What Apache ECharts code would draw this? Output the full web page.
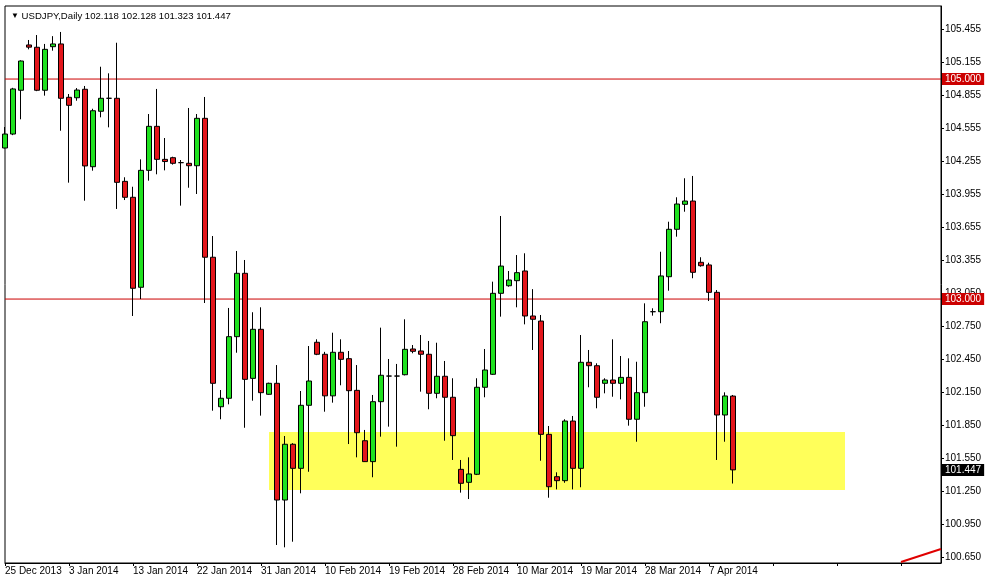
<!DOCTYPE html>
<html><head><meta charset="utf-8">
<script src="https://cdn.jsdelivr.net/npm/echarts@6/dist/echarts.min.js"></script>
<style>html,body{margin:0;padding:0;background:#fff}#c{width:985px;height:580px}</style>
</head><body><div id="c"></div>
<script>
const categories = ['25 Dec 2013','26 Dec 2013','27 Dec 2013','29 Dec 2013','30 Dec 2013','31 Dec 2013','1 Jan 2014','2 Jan 2014','3 Jan 2014','5 Jan 2014','6 Jan 2014','7 Jan 2014','8 Jan 2014','9 Jan 2014','10 Jan 2014','12 Jan 2014','13 Jan 2014','14 Jan 2014','15 Jan 2014','16 Jan 2014','17 Jan 2014','19 Jan 2014','20 Jan 2014','21 Jan 2014','22 Jan 2014','23 Jan 2014','24 Jan 2014','26 Jan 2014','27 Jan 2014','28 Jan 2014','29 Jan 2014','30 Jan 2014','31 Jan 2014','2 Feb 2014','3 Feb 2014','4 Feb 2014','5 Feb 2014','6 Feb 2014','7 Feb 2014','9 Feb 2014','10 Feb 2014','11 Feb 2014','12 Feb 2014','13 Feb 2014','14 Feb 2014','16 Feb 2014','17 Feb 2014','18 Feb 2014','19 Feb 2014','20 Feb 2014','21 Feb 2014','23 Feb 2014','24 Feb 2014','25 Feb 2014','26 Feb 2014','27 Feb 2014','28 Feb 2014','2 Mar 2014','3 Mar 2014','4 Mar 2014','5 Mar 2014','6 Mar 2014','7 Mar 2014','9 Mar 2014','10 Mar 2014','11 Mar 2014','12 Mar 2014','13 Mar 2014','14 Mar 2014','16 Mar 2014','17 Mar 2014','18 Mar 2014','19 Mar 2014','20 Mar 2014','21 Mar 2014','23 Mar 2014','24 Mar 2014','25 Mar 2014','26 Mar 2014','27 Mar 2014','28 Mar 2014','30 Mar 2014','31 Mar 2014','1 Apr 2014','2 Apr 2014','3 Apr 2014','4 Apr 2014','6 Apr 2014','7 Apr 2014','8 Apr 2014','9 Apr 2014','10 Apr 2014'];

const openP = [104.373,104.500,104.898,105.310,105.289,104.898,105.294,105.319,104.834,104.830,104.907,104.203,104.707,104.825,104.825,104.070,103.925,103.107,104.170,104.570,104.270,104.285,104.240,104.234,104.212,104.643,103.380,102.021,102.098,102.658,103.234,102.279,102.725,102.134,102.234,101.173,101.680,101.461,102.034,102.607,102.498,102.120,102.516,102.458,102.170,101.712,101.522,102.067,102.300,102.300,102.312,102.546,102.528,102.498,102.143,102.298,102.107,101.452,101.334,101.407,102.198,102.316,103.052,103.121,103.167,103.255,102.846,102.800,101.770,101.385,101.349,101.891,101.461,102.425,102.394,102.234,102.264,102.234,102.288,101.907,102.149,102.885,102.885,103.203,103.634,103.861,103.891,103.334,103.310,103.061,101.946,102.118];
const closeP = [104.500,104.910,105.164,105.290,104.898,105.270,105.319,104.825,104.761,104.900,104.210,104.712,104.825,104.825,104.061,103.925,103.098,104.170,104.570,104.270,104.250,104.234,104.240,104.212,104.643,103.380,102.234,102.098,102.658,103.234,102.270,102.725,102.149,102.234,101.173,101.680,101.461,102.034,102.255,102.498,102.120,102.516,102.452,102.167,101.785,101.522,102.067,102.307,102.300,102.300,102.543,102.525,102.498,102.143,102.298,102.107,101.758,101.325,101.410,102.198,102.355,103.052,103.300,103.173,103.240,102.846,102.816,101.770,101.294,101.349,101.891,101.461,102.425,102.394,102.107,102.264,102.234,102.288,101.907,102.149,102.794,102.885,103.210,103.634,103.864,103.891,103.243,103.303,103.061,101.946,102.119,101.447];
const lowP = [104.370,104.490,104.634,105.270,104.890,104.849,105.258,104.530,104.058,104.803,103.894,104.167,104.652,104.561,103.819,103.900,102.846,103.000,104.076,104.134,104.170,104.222,103.849,104.012,103.955,102.964,101.985,101.907,102.043,102.512,101.830,102.076,101.940,102.130,100.764,100.743,100.794,101.234,101.430,102.490,101.976,102.058,102.216,101.682,101.561,101.520,101.380,101.749,101.840,101.658,102.306,102.507,102.158,101.998,102.098,101.712,101.537,101.240,101.182,101.400,102.107,102.310,102.840,103.112,102.925,102.770,102.537,101.530,101.194,101.270,101.330,101.270,101.289,102.198,102.007,102.143,102.112,102.088,101.849,101.703,102.021,102.849,102.780,103.076,103.567,103.794,103.189,103.294,102.982,101.537,101.703,101.323];
const highP = [104.564,104.920,105.170,105.355,105.400,105.319,105.390,105.428,104.864,104.918,104.937,104.730,105.112,105.052,105.330,104.107,104.021,104.270,104.682,104.910,104.464,104.294,104.264,104.737,104.682,104.837,103.573,102.173,102.919,103.437,103.355,102.880,102.925,102.240,102.400,101.755,101.690,102.164,102.573,102.634,102.520,102.694,102.634,102.528,102.400,101.810,102.128,102.740,102.455,102.410,102.816,102.582,102.673,102.619,102.603,102.437,102.280,101.537,101.561,102.280,102.546,103.158,103.755,103.255,103.400,103.416,103.090,102.855,101.846,101.425,101.907,101.937,102.673,102.537,102.416,102.280,102.634,102.482,102.461,102.430,102.961,102.916,103.430,103.703,103.925,104.098,104.119,103.380,103.330,103.082,102.152,102.128];

const yTickLabels = [105.455,105.155,104.855,104.555,104.255,103.955,103.655,103.355,103.050,102.750,102.450,102.150,101.850,101.550,101.250,100.950,100.650];
const levelLines = [105.000, 103.000];
const lastPrice = 101.447;
const zoneRange = {fromIdx: 33, toIdx: 105, low: 101.264, high: 101.791};
const trendLine = [[112, 100.610], [117, 100.728]];
const header = {symbol: 'USDJPY,Daily', o: '102.118', h: '102.128', l: '101.323', c: '101.447'};

const TOTAL_SLOTS = 118;
const xCats = categories.concat(new Array(TOTAL_SLOTS - categories.length).fill(''));
const candleData = openP.map((o, i) => [o, closeP[i], lowP[i], highP[i]]);

const FONT = 'Liberation Sans';
const RED = '#cc0000';
const tagLabel = (v, bg) => ({show: true, formatter: v.toFixed(3), distance: 1, offset: [0, 0],
  backgroundColor: bg, color: '#fff', padding: [1, 3, 1, 3], fontSize: 10, fontFamily: FONT});

const levelSeries = levelLines.map(v => ({
  type: 'line', z: 2, silent: true, symbol: 'none', clip: false,
  data: [[0, v], [TOTAL_SLOTS - 1, v]],
  lineStyle: {color: RED, width: 1, type: 'solid'},
  itemStyle: {color: RED},
  endLabel: tagLabel(v, RED)
}));

const chart = echarts.init(document.getElementById('c'), null, {renderer: 'canvas'});
chart.setOption({
  animation: false,
  backgroundColor: '#fff',
  title: {
    left: 6, top: 6,
    text: '{tri|▼} ' + header.symbol + ' ' + header.o + ' ' + header.h + ' ' + header.l + ' ' + header.c,
    textStyle: {
      fontFamily: FONT, fontSize: 9.6, fontWeight: 'normal', color: '#000',
      rich: {tri: {fontSize: 8, color: '#000', fontFamily: FONT}}
    }
  },
  grid: {left: 5, right: 44, top: 6, bottom: 17, show: true, borderColor: '#000', borderWidth: 1, backgroundColor: 'transparent'},
  xAxis: {
    type: 'category', data: xCats, boundaryGap: false,
    axisLine: {show: true, lineStyle: {color: '#000', width: 1}},
    axisTick: {show: true, interval: 7, length: 3, lineStyle: {color: '#000'}},
    axisLabel: {interval: 7, align: 'left', margin: 3, fontSize: 10, fontFamily: FONT, color: '#000'},
    splitLine: {show: false}
  },
  yAxis: {
    type: 'value', position: 'right', min: 100.6005, max: 105.664, scale: true,
    axisLine: {show: true, lineStyle: {color: '#000', width: 1}},
    axisTick: {show: true, length: 3, customValues: yTickLabels, lineStyle: {color: '#000'}},
    axisLabel: {customValues: yTickLabels, margin: 4, fontSize: 10, fontFamily: FONT, color: '#000',
      formatter: v => v.toFixed(3)},
    splitLine: {show: false}
  },
  series: [
    {
      type: 'line', data: [], z: 1, silent: true,
      markArea: {
        silent: true,
        itemStyle: {color: '#ffff5a', opacity: 1},
        data: [[{coord: [zoneRange.fromIdx, zoneRange.high]}, {coord: [zoneRange.toIdx, zoneRange.low]}]]
      }
    }
  ].concat(levelSeries).concat([
    {
      type: 'candlestick', data: candleData, z: 3, barWidth: 6, clip: true,
      itemStyle: {color: '#1fe11f', color0: '#e3161b', borderColor: '#000', borderColor0: '#000', borderWidth: 1}
    },
    {
      type: 'line', z: 5, silent: true, symbol: 'none', clip: false,
      data: [[0, lastPrice], [TOTAL_SLOTS - 1, lastPrice]],
      lineStyle: {opacity: 0, width: 0},
      endLabel: tagLabel(lastPrice, '#000')
    },
    {
      type: 'line', data: trendLine, z: 4, symbol: 'none', silent: true,
      lineStyle: {color: '#e00000', width: 2}
    }
  ])
});
</script></body></html>
